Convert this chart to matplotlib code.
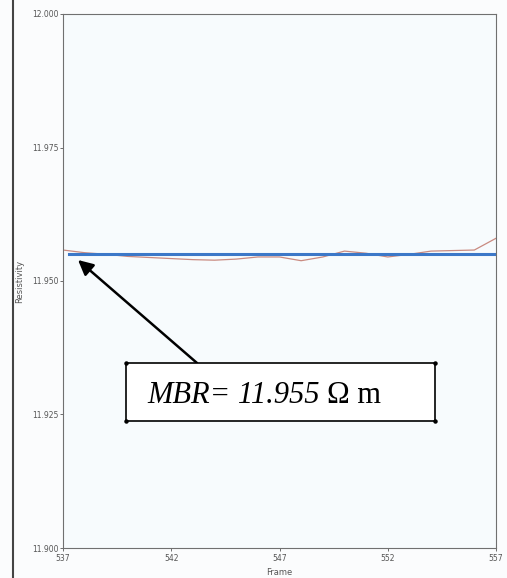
import numpy as np
import matplotlib.pyplot as plt
from matplotlib.patches import Rectangle

# resistivity per frame
frames = [537, 538, 539, 540, 541, 542, 543, 544, 545, 546, 547,
          548, 549, 550, 551, 552, 553, 554, 555, 556, 557]
resistivity = [11.9558, 11.9553, 11.9550, 11.9546, 11.9544, 11.9542, 11.9540,
               11.9539, 11.9541, 11.9545, 11.9545, 11.9538, 11.9545, 11.9556,
               11.9552, 11.9545, 11.9550, 11.9556, 11.9557, 11.9558, 11.9580]
mbr = 11.955
x_ticks = [537, 542, 547, 552, 557]
y_ticks = [11.900, 11.925, 11.950, 11.975, 12.000]

fig = plt.figure(figsize=(5.07, 5.78), dpi=100)
fig.patch.set_facecolor('#fbfcfd')
ax = fig.add_axes([63 / 507, 1 - 548 / 578, 433 / 507, 534 / 578])
ax.set_facecolor('#f7fbfd')

ax.plot(frames, resistivity, color='#c98a80', linewidth=0.9)
ax.plot([frames[0] + 0.3, frames[-1]], [mbr, mbr], color='#3c78c8', linewidth=2.2)

ax.set_xlim(537, 557)
ax.set_ylim(11.900, 12.000)
ax.set_xticks(x_ticks)
ax.set_yticks(y_ticks)
ax.set_yticklabels(['%.3f' % v for v in y_ticks])
ax.tick_params(labelsize=5.5, colors='#555555', length=2, width=0.6)
ax.tick_params(axis='x', pad=2)
ax.tick_params(axis='y', pad=1)
for s in ax.spines.values():
    s.set_color('#707070')
    s.set_linewidth(0.8)
ax.set_xlabel('Frame', fontsize=6, color='#555555', labelpad=4)
ax.set_ylabel('Resistivity', fontsize=6, color='#555555')
ax.yaxis.set_label_coords(-0.09, 0.5)

# annotation box with corner dots
x0, y0, x1, y1 = 126 / 507, 1 - 421 / 578, 435 / 507, 1 - 363 / 578
fig.patches.append(Rectangle((x0, y0), x1 - x0, y1 - y0, transform=fig.transFigure,
                             facecolor='white', edgecolor='black', linewidth=1.2))
fig.lines.append(plt.Line2D([x0, x1, x0, x1], [y0, y0, y1, y1], transform=fig.transFigure,
                            linestyle='none', marker='o', markersize=2.2, color='black'))
t1 = fig.text(147 / 507, 1 - 403 / 578, 'MBR= 11.955 ', fontsize=22,
              family='Liberation Serif', style='italic', va='baseline', ha='left')
fig.canvas.draw()
bb = t1.get_window_extent().transformed(fig.transFigure.inverted())
fig.text(bb.x1, 1 - 403 / 578, '\u03a9 m', fontsize=22,
         family='Liberation Serif', va='baseline', ha='left')

# arrow pointing at the MBR line
ax.annotate('', xy=(78 / 507, 1 - 260 / 578), xycoords='figure fraction',
            xytext=(197 / 507, 1 - 363 / 578), textcoords='figure fraction',
            arrowprops=dict(arrowstyle='-|>,head_length=0.9,head_width=0.45',
                            color='black', linewidth=1.8, shrinkA=0, shrinkB=0))

# dark scan edge on the left
fig.lines.append(plt.Line2D([13 / 507, 13 / 507], [0, 1], transform=fig.transFigure,
                            color='#444444', linewidth=1.5))

fig.savefig('out.png', dpi=100)
